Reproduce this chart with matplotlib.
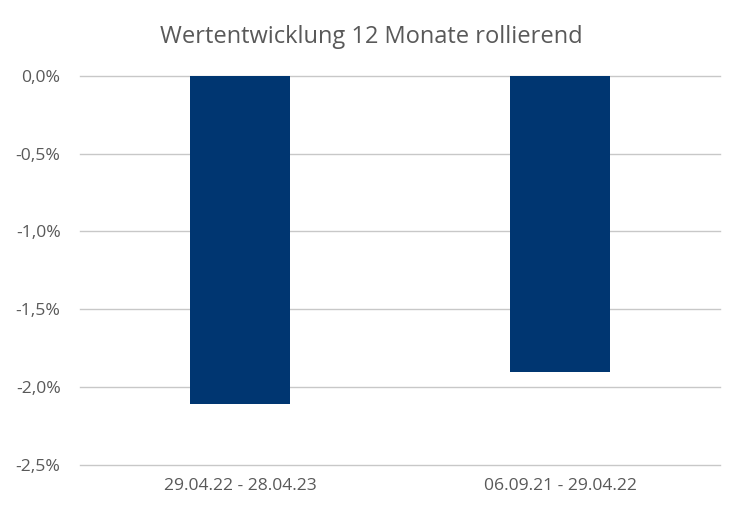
import matplotlib.pyplot as plt
from matplotlib.ticker import FuncFormatter

categories = ['29.04.22 - 28.04.23', '06.09.21 - 29.04.22']
values = [-2.11, -1.90]
yticks = [0.0, -0.5, -1.0, -1.5, -2.0, -2.5]

plt.rcParams['font.family'] = ['Open Sans', 'DejaVu Sans']
grey = '#595959'

fig = plt.figure(figsize=(7.43, 5.16), dpi=100)
ax = fig.add_axes([0.1077, 0.0988, 0.8613, 0.7545])
ax.bar(range(len(categories)), values, width=0.3125, color='#003671', zorder=3)
ax.set_xlim(-0.5, len(categories) - 0.5)
ax.set_ylim(-2.5, 0)
ax.set_yticks(yticks)
ax.yaxis.set_major_formatter(FuncFormatter(lambda v, p: f'{v:.1f}%'.replace('.', ',')))
ax.set_xticks(range(len(categories)))
ax.set_xticklabels(categories)
ax.tick_params(length=0, colors=grey, labelsize=12.6)
ax.tick_params(axis='y', pad=14)
ax.tick_params(axis='x', pad=9)
ax.grid(axis='y', color='#c8c8c8', linewidth=1, zorder=0)
for line in ax.get_ygridlines():
    line.set_clip_on(False)
for s in ax.spines.values():
    s.set_visible(False)
fig.text(0.5, 1 - 37 / 516, 'Wertentwicklung 12 Monate rollierend', color=grey,
         fontsize=17, ha='center', va='center')

fig.savefig('out.png', dpi=100)
